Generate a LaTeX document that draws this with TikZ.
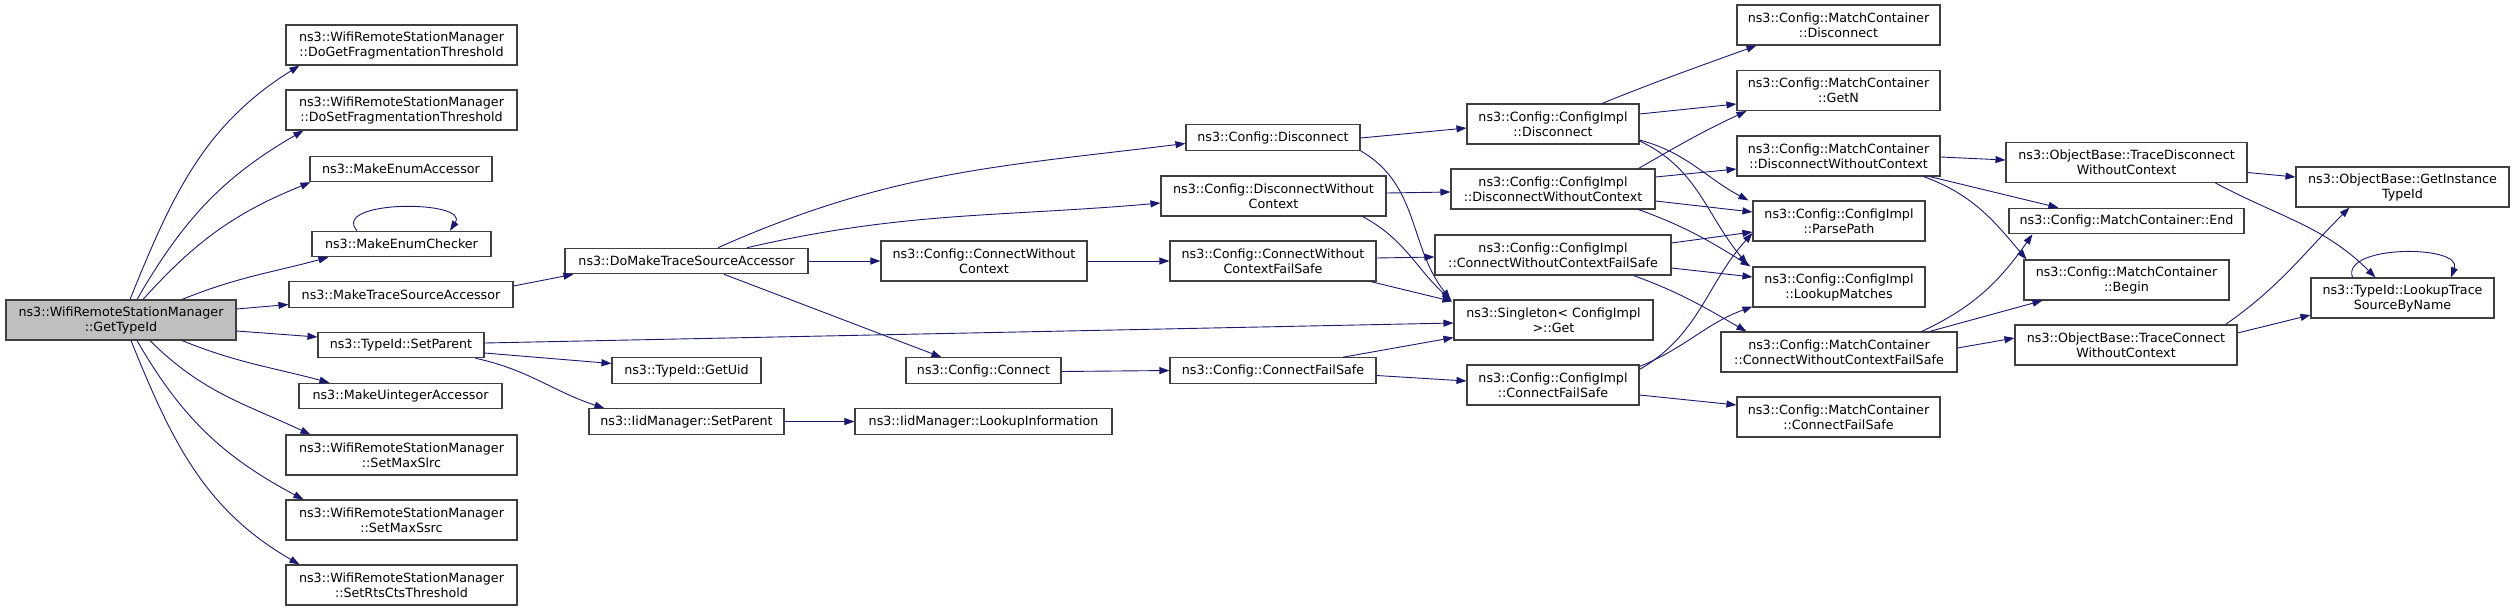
\documentclass[tikz,border=0pt]{standalone}
\usepackage{fontspec}
\setmainfont{DejaVu Sans}
\usetikzlibrary{arrows.meta}
\definecolor{edgeblue}{RGB}{25,25,112}
\definecolor{boxline}{RGB}{64,64,64}
\definecolor{boxgray}{RGB}{191,191,191}
\begin{document}
\begin{tikzpicture}[x=1pt,y=1pt,
 fn/.style={draw=boxline, line width=1.1pt, fill=white, inner sep=0pt, align=center, font=\fontsize{12.7}{15}\selectfont},
 bw/.style={minimum width=#1pt},
 htwo/.style={minimum height=40pt}, hone/.style={minimum height=25.5pt},
 call/.style={draw=edgeblue, line width=0.9pt, -{Triangle[length=10pt,width=7pt]}}]
\useasboundingbox[fill=white] (0,0) rectangle (2515,-611);
% column 1
\node[fn,fill=boxgray,bw=230,htwo] (gt) at (121,-320) {ns3::WifiRemoteStationManager\\::GetTypeId};
% column 2
\node[fn,bw=231,htwo] (dgf) at (401.5,-45) {ns3::WifiRemoteStationManager\\::DoGetFragmentationThreshold};
\node[fn,bw=231,htwo] (dsf) at (401.5,-110) {ns3::WifiRemoteStationManager\\::DoSetFragmentationThreshold};
\node[fn,bw=182,hone] (mea) at (401,-169) {ns3::MakeEnumAccessor};
\node[fn,bw=179,hone] (mec) at (401.5,-244) {ns3::MakeEnumChecker};
\node[fn,bw=224,hone] (mtsa) at (401,-294.5) {ns3::MakeTraceSourceAccessor};
\node[fn,bw=166,hone] (tsp) at (401,-345) {ns3::TypeId::SetParent};
\node[fn,bw=203,hone] (mua) at (400.5,-396) {ns3::MakeUintegerAccessor};
\node[fn,bw=231,htwo] (slrc) at (401.5,-455) {ns3::WifiRemoteStationManager\\::SetMaxSlrc};
\node[fn,bw=231,htwo] (ssrc) at (401.5,-520) {ns3::WifiRemoteStationManager\\::SetMaxSsrc};
\node[fn,bw=231,htwo] (rts) at (401.5,-585) {ns3::WifiRemoteStationManager\\::SetRtsCtsThreshold};
% column 3
\node[fn,bw=243,hone] (dmtsa) at (686.5,-261) {ns3::DoMakeTraceSourceAccessor};
\node[fn,bw=149,hone] (gu) at (686.5,-370.5) {ns3::TypeId::GetUid};
\node[fn,bw=195,hone] (ism) at (686.5,-421.5) {ns3::IidManager::SetParent};
% column 4
\node[fn,bw=206,htwo] (cwc) at (984,-261) {ns3::Config::ConnectWithout\\Context};
\node[fn,bw=155,hone] (cc) at (983.5,-370.5) {ns3::Config::Connect};
\node[fn,bw=257,hone] (li) at (983.5,-421.5) {ns3::IidManager::LookupInformation};
% column 5
\node[fn,bw=174,hone] (cd) at (1273,-137.5) {ns3::Config::Disconnect};
\node[fn,bw=225,htwo] (cdwc) at (1273.5,-196) {ns3::Config::DisconnectWithout\\Context};
\node[fn,bw=206,htwo] (cwcfs) at (1273,-261) {ns3::Config::ConnectWithout\\ContextFailSafe};
\node[fn,bw=206,hone] (cfs) at (1273,-370.5) {ns3::Config::ConnectFailSafe};
% column 6
\node[fn,bw=172,htwo] (cid) at (1553,-124) {ns3::Config::ConfigImpl\\::Disconnect};
\node[fn,bw=204,htwo] (cidwc) at (1553,-189) {ns3::Config::ConfigImpl\\::DisconnectWithoutContext};
\node[fn,bw=236,htwo] (ciwcfs) at (1553,-255) {ns3::Config::ConfigImpl\\::ConnectWithoutContextFailSafe};
\node[fn,bw=199,htwo] (sg) at (1553.5,-320) {ns3::Singleton< ConfigImpl\\ >::Get};
\node[fn,bw=172,htwo] (cifs) at (1553,-385) {ns3::Config::ConfigImpl\\::ConnectFailSafe};
% column 7
\node[fn,bw=203,htwo] (mcd) at (1838.5,-25) {ns3::Config::MatchContainer\\::Disconnect};
\node[fn,bw=203,htwo] (mcn) at (1838.5,-90.5) {ns3::Config::MatchContainer\\::GetN};
\node[fn,bw=203,htwo] (mcdwc) at (1838.5,-156) {ns3::Config::MatchContainer\\::DisconnectWithoutContext};
\node[fn,bw=172,htwo] (pp) at (1839,-221) {ns3::Config::ConfigImpl\\::ParsePath};
\node[fn,bw=172,htwo] (lm) at (1839,-287) {ns3::Config::ConfigImpl\\::LookupMatches};
\node[fn,bw=236,htwo] (mcwcfs) at (1839,-352) {ns3::Config::MatchContainer\\::ConnectWithoutContextFailSafe};
\node[fn,bw=203,htwo] (mcfs) at (1838.5,-417) {ns3::Config::MatchContainer\\::ConnectFailSafe};
% column 8
\node[fn,bw=241,htwo] (tdwc) at (2126.5,-162.5) {ns3::ObjectBase::TraceDisconnect\\WithoutContext};
\node[fn,bw=235,hone] (mce) at (2126.5,-221) {ns3::Config::MatchContainer::End};
\node[fn,bw=205,htwo] (mcb) at (2126.5,-280) {ns3::Config::MatchContainer\\::Begin};
\node[fn,bw=222,htwo] (tcwc) at (2126,-345) {ns3::ObjectBase::TraceConnect\\WithoutContext};
% column 9
\node[fn,bw=213,htwo] (git) at (2402.5,-187) {ns3::ObjectBase::GetInstance\\TypeId};
\node[fn,bw=183,htwo] (lts) at (2402.5,-298) {ns3::TypeId::LookupTrace\\SourceByName};

% edges from GetTypeId
\draw[call] ([xshift=9]gt.north) to[out=68,in=212] ([xshift=14]dgf.south west);
\draw[call] ([xshift=16]gt.north) to[out=60,in=210] ([xshift=18]dsf.south west);
\draw[call] ([xshift=22]gt.north) to[out=48,in=202] ([xshift=1]mea.south west);
\draw[call] ([xshift=61]gt.north) to[out=22,in=195] ([xshift=17]mec.south west);
\draw[call] ([yshift=11]gt.east) -- ([yshift=-10]mtsa.west);
\draw[call] ([yshift=-11]gt.east) -- ([yshift=8]tsp.west);
\draw[call] ([xshift=61]gt.south) to[out=-22,in=165] ([xshift=31]mua.north west);
\draw[call] ([xshift=29]gt.south) to[out=-45,in=155] ([xshift=25]slrc.north west);
\draw[call] ([xshift=16]gt.south) to[out=-60,in=152] ([xshift=18]ssrc.north west);
\draw[call] ([xshift=10]gt.south) to[out=-68,in=150] ([xshift=14]rts.north west);
% self loop
\draw[call] ([xshift=-44.5]mec.north) .. controls +(-27,31) and +(20,31) .. ([xshift=48.5]mec.north);
% column 2 -> 3
\draw[call] ([yshift=8.5]mtsa.east) -- ([xshift=9]dmtsa.south west);
\draw[call] ([yshift=-8]tsp.east) -- ([yshift=7]gu.west);
\draw[call] ([xshift=-9]tsp.south east) to[out=-12,in=162] ([xshift=16]ism.north west);
\draw[call] ([yshift=2]tsp.east) -- ([yshift=-3]sg.west);
\draw[call] (ism.east) -- (li.west);
% from DoMakeTraceSourceAccessor
\draw[call] ([xshift=31.5]dmtsa.north) to[out=24,in=187] ([yshift=-6]cd.west);
\draw[call] ([xshift=60.5]dmtsa.north) to[out=13,in=185] ([yshift=-7]cdwc.west);
\draw[call] (dmtsa.east) -- (cwc.west);
\draw[call] ([xshift=37.5]dmtsa.south) -- ([xshift=36]cc.north west);
\draw[call] (cwc.east) -- (cwcfs.west);
\draw[call] ([yshift=-1]cc.east) -- ([yshift=0]cfs.west);
% column 5 -> 6
\draw[call] ([yshift=-0.5]cd.east) -- ([yshift=-4]cid.west);
\draw[call] (cd.south east) to[out=-30,in=128] ([xshift=-3]sg.north west);
\draw[call] ([yshift=3]cdwc.east) -- ([yshift=-3]cidwc.west);
\draw[call] ([xshift=-24]cdwc.south east) to[out=-28,in=138] ([xshift=-2,yshift=-1]sg.north west);
\draw[call] ([yshift=3]cwcfs.east) -- ([yshift=-2]ciwcfs.west);
\draw[call] ([xshift=-6]cwcfs.south east) -- ([xshift=-1,yshift=-2]sg.north west);
\draw[call] ([xshift=70]cfs.north) -- ([yshift=3]sg.south west);
\draw[call] ([yshift=-5]cfs.east) -- ([yshift=4]cifs.west);
% column 6 -> 7
\draw[call] ([xshift=49]cid.north) to[out=22,in=200] ([xshift=20]mcd.south west);
\draw[call] ([yshift=10]cid.east) -- ([yshift=-13.5]mcn.west);
\draw[call] ([yshift=-16]cid.east) to[out=-15,in=152] ([xshift=-4]pp.north west);
\draw[call] ([yshift=-17]cid.east) to[out=-25,in=130] ([xshift=-5,yshift=2]lm.north west);
\draw[call] ([xshift=-17]cidwc.north east) to[out=30,in=205] ([xshift=10]mcn.south west);
\draw[call] ([yshift=12]cidwc.east) -- ([yshift=-13]mcdwc.west);
\draw[call] ([yshift=-12]cidwc.east) -- ([yshift=9]pp.west);
\draw[call] ([xshift=-17]cidwc.south east) to[out=-20,in=148] ([xshift=-2]lm.north west);
\draw[call] ([yshift=12]ciwcfs.east) -- ([yshift=-11]pp.west);
\draw[call] ([yshift=-13]ciwcfs.east) -- ([yshift=10]lm.west);
\draw[call] ([xshift=-38]ciwcfs.south east) to[out=-20,in=150] ([xshift=26]mcwcfs.north west);
\draw[call] ([yshift=-5]cifs.north east) to[out=30,in=228] ([yshift=-12]pp.west);
\draw[call] ([yshift=-2]cifs.north east) to[out=22,in=200] ([yshift=1]lm.south west);
\draw[call] ([yshift=-10]cifs.east) -- ([yshift=12]mcfs.west);
% column 7 -> 8
\draw[call] ([yshift=-1]mcdwc.east) -- ([yshift=2.5]tdwc.west);
\draw[call] ([xshift=-11]mcdwc.south east) -- ([xshift=50]mce.north west);
\draw[call] ([xshift=-17]mcdwc.south east) to[out=-20,in=130] ([xshift=3]mcb.north west);
\draw[call] ([xshift=-36]mcwcfs.north east) to[out=25,in=235] ([xshift=24]mce.south west);
\draw[call] ([xshift=-28]mcwcfs.north east) -- ([xshift=19]mcb.south west);
\draw[call] ([yshift=4]mcwcfs.east) -- ([yshift=7]tcwc.west);
% column 8 -> 9
\draw[call] ([yshift=-10]tdwc.east) -- ([yshift=10]git.west);
\draw[call] ([xshift=-32]tdwc.south east) to[out=-28,in=135] ([xshift=65]lts.north west);
\draw[call] ([xshift=-12]tcwc.north east) to[out=35,in=225] ([xshift=54]git.south west);
\draw[call] ([yshift=12]tcwc.east) -- ([yshift=-17]lts.west);
\draw[call] ([xshift=-50]lts.north) .. controls +(-12,33) and +(12,33) .. ([xshift=48.5]lts.north);
\end{tikzpicture}
\end{document}
